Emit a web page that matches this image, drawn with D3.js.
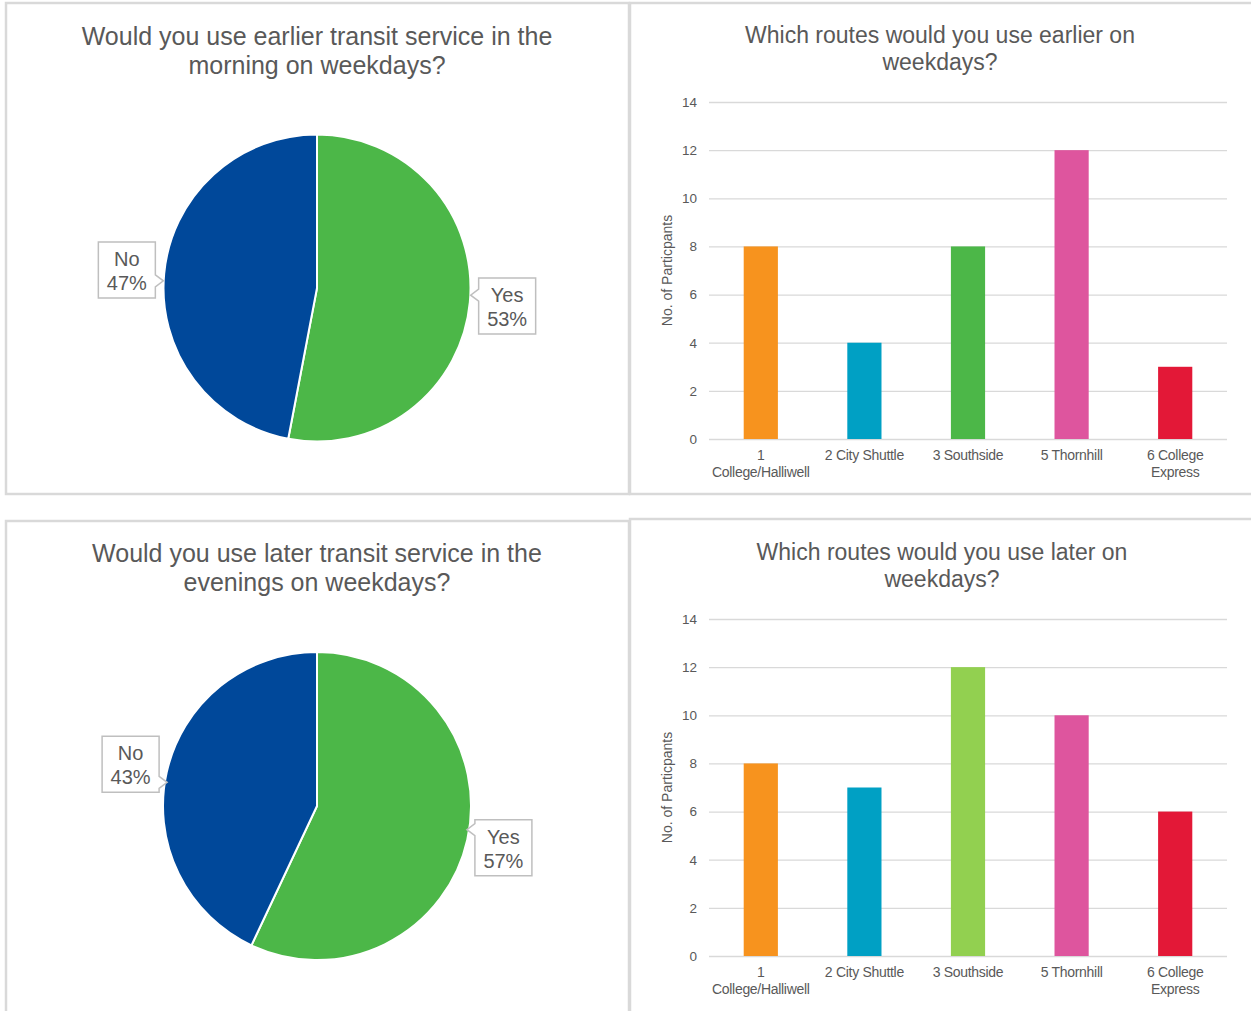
<!DOCTYPE html>
<html>
<head>
<meta charset="utf-8">
<script src="https://cdn.jsdelivr.net/npm/d3@7"></script>
<style>
  body { margin: 0; background: #fff; }
  svg { display: block; font-family: "Liberation Sans", Arial, sans-serif; }
</style>
</head>
<body>
<svg id="chart" width="1251" height="1011"></svg>
<script>
// answers for the two yes/no questions
var answers = ["Yes", "No"];
var earlierShares = [53, 47];
var laterShares = [57, 43];
var answerColors = ["#4cb748", "#00489a"];

// route counts
var routes = ["1 College/Halliwell", "2 City Shuttle", "3 Southside", "5 Thornhill", "6 College Express"];
var routeLabels = [["1", "College/Halliwell"], ["2 City Shuttle"], ["3 Southside"], ["5 Thornhill"], ["6 College", "Express"]];
var earlierCounts = [8, 4, 8, 12, 3];
var laterCounts = [8, 7, 12, 10, 6];
var earlierColors = ["#f7931e", "#00a0c4", "#4cb748", "#de559e", "#e31837"];
var laterColors = ["#f7931e", "#00a0c4", "#92d050", "#de559e", "#e31837"];
var yTicks = [0, 2, 4, 6, 8, 10, 12, 14];

var svg = d3.select("#chart");
var textColor = "#595959";
var borderColor = "#d9d9d9";

// panel frames
var panels = [
    {x: 6, y: 3, w: 623, h: 491},
    {x: 630, y: 3, w: 623, h: 491},
    {x: 6, y: 521, w: 623, h: 492},
    {x: 630, y: 519, w: 623, h: 494}
];
svg.append("g").selectAll("rect")
    .data(panels)
    .enter().append("rect")
    .attr("x", function (d) { return d.x; })
    .attr("y", function (d) { return d.y; })
    .attr("width", function (d) { return d.w; })
    .attr("height", function (d) { return d.h; })
    .attr("fill", "#fff")
    .attr("stroke", borderColor)
    .attr("stroke-width", 2.5);

function title(lines, cx, y0, size, lineGap) {
    var t = svg.append("text")
        .attr("text-anchor", "middle")
        .attr("fill", textColor)
        .style("font-size", size + "px");
    lines.forEach(function (l, i) {
        t.append("tspan").attr("x", cx).attr("y", y0 + i * lineGap).text(l);
    });
}

function drawPie(shares, cx, cy, r) {
    var data = answers.map(function (a, i) { return {name: a, value: shares[i], color: answerColors[i]}; });
    var pie = d3.pie().sort(null).value(function (d) { return d.value; });
    var arc = d3.arc().innerRadius(0).outerRadius(r);
    var arcs = pie(data);

    var g = svg.append("g").attr("transform", "translate(" + cx + "," + cy + ")");
    g.selectAll("path")
        .data(arcs)
        .enter().append("path")
        .attr("d", arc)
        .attr("fill", function (d) { return d.data.color; })
        .attr("stroke", "#fff")
        .attr("stroke-width", 2);

    // callout labels
    var bw = 57, bh = 56, lr = 191;
    arcs.forEach(function (d) {
        var mid = (d.startAngle + d.endAngle) / 2;
        var bx = Math.sin(mid) * lr, by = -Math.cos(mid) * lr;
        var left = bx - bw / 2, right = bx + bw / 2, top = by - bh / 2, bot = by + bh / 2;
        var wy = by + (0 - by) * 0.6;
        wy = Math.max(top + 10, Math.min(bot - 10, wy));
        var p;
        if (bx > 0) {
            // pointer on the left side
            p = "M" + left + "," + top + "H" + right + "V" + bot + "H" + left +
                "V" + (wy + 6) + "L" + (left - 8) + "," + wy + "L" + left + "," + (wy - 6) + "Z";
        } else {
            p = "M" + left + "," + top + "H" + right + "V" + (wy - 6) + "L" + (right + 8) + "," + wy +
                "L" + right + "," + (wy + 6) + "V" + bot + "H" + left + "Z";
        }
        g.append("path")
            .attr("d", p)
            .attr("fill", "#fff")
            .attr("stroke", "#bfbfbf")
            .attr("stroke-width", 1.5);
        var t = g.append("text")
            .attr("text-anchor", "middle")
            .attr("fill", textColor)
            .style("font-size", "20px");
        t.append("tspan").attr("x", bx).attr("y", by - 4).text(d.data.name);
        t.append("tspan").attr("x", bx).attr("y", by + 20).text(d.data.value + "%");
    });
}

function drawBars(counts, colors, top, bottom) {
    var x = d3.scaleBand().domain(routes).range([709, 1227]).paddingInner(0.67).paddingOuter(0.335);
    var y = d3.scaleLinear().domain([0, 14]).range([bottom, top]);

    var g = svg.append("g");
    g.append("g")
        .attr("transform", "translate(709,0)")
        .call(d3.axisLeft(y).tickValues(yTicks).tickSize(-518).tickPadding(12))
        .call(function (a) {
            a.select(".domain").remove();
            a.selectAll(".tick line").attr("stroke", borderColor).attr("stroke-width", 1.3);
            a.selectAll(".tick text").attr("fill", textColor).style("font-size", "13.5px")
                .style("font-family", "'Liberation Sans', Arial, sans-serif");
        });

    g.selectAll("rect.bar")
        .data(counts)
        .enter().append("rect")
        .attr("class", "bar")
        .attr("x", function (d, i) { return x(routes[i]); })
        .attr("width", x.bandwidth())
        .attr("y", function (d) { return y(d); })
        .attr("height", function (d) { return y(0) - y(d); })
        .attr("fill", function (d, i) { return colors[i]; });

    // category labels
    routeLabels.forEach(function (lines, i) {
        var cx = x(routes[i]) + x.bandwidth() / 2;
        var t = g.append("text")
            .attr("text-anchor", "middle")
            .attr("fill", textColor)
            .style("font-size", "14px")
            .style("letter-spacing", "-0.3px");
        lines.forEach(function (l, j) {
            t.append("tspan").attr("x", cx).attr("y", bottom + 21 + j * 17).text(l);
        });
    });

    g.append("text")
        .attr("transform", "translate(672," + ((top + bottom) / 2) + ") rotate(-90)")
        .attr("text-anchor", "middle")
        .attr("fill", textColor)
        .style("font-size", "14px")
        .text("No. of Particpants");
}

title(["Would you use earlier transit service in the", "morning on weekdays?"], 317, 45, 25, 29);
title(["Which routes would you use earlier on", "weekdays?"], 940, 43, 23, 27);
title(["Would you use later transit service in the", "evenings on weekdays?"], 317, 562, 25, 29);
title(["Which routes would you use later on", "weekdays?"], 942, 560, 23, 27);

drawPie(earlierShares, 317, 288, 153.5);
drawPie(laterShares, 317, 806, 154);
drawBars(earlierCounts, earlierColors, 102, 439);
drawBars(laterCounts, laterColors, 619, 956);
</script>
</body>
</html>
